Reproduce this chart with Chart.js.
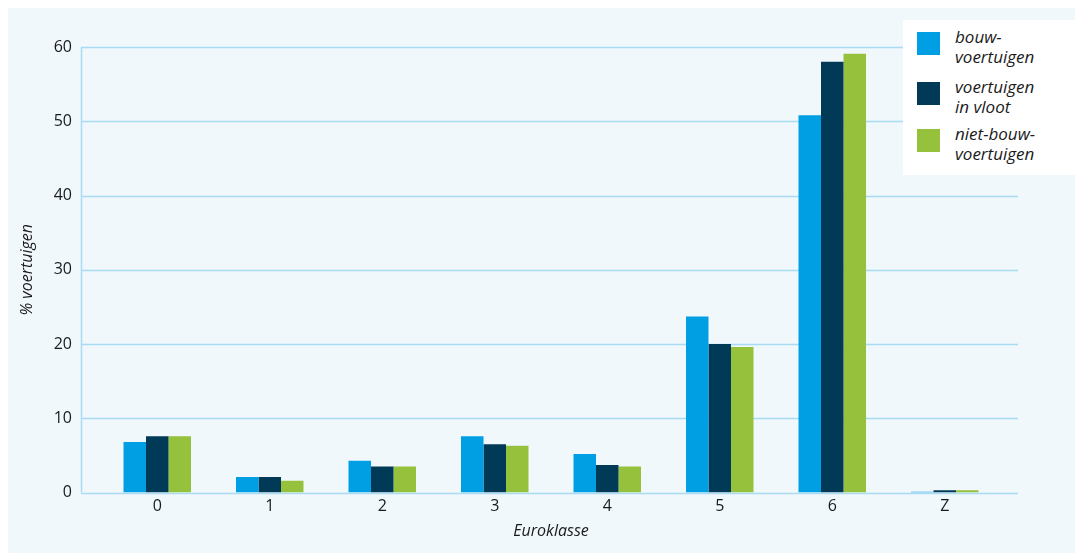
<!DOCTYPE html>
<html>
<head>
<meta charset="utf-8">
<script src="https://cdn.jsdelivr.net/npm/chart.js@4.4.1/dist/chart.umd.min.js"></script>
<style>
  html, body { margin: 0; padding: 0; background: #ffffff; }
  #wrap { position: relative; width: 1075px; height: 553px; overflow: hidden; }
  #panel { position: absolute; left: 8px; top: 8px; right: 0; bottom: 0; background: #f0f8fc; }
  #wrap canvas { position: absolute; left: 0; top: 0; }
  #legend {
    position: absolute; left: 903px; top: 20px; width: 172px; height: 155px;
    background: #ffffff; font-family: "Open Sans", "Noto Sans", sans-serif;
    font-style: italic; font-size: 17px; line-height: 20px; color: #1a1a1a;
  }
  #legend .item { position: absolute; left: 14px; }
  #legend .sw { position: absolute; left: 0; top: 1px; width: 23px; height: 23px; }
  #legend .txt { position: absolute; left: 38px; top: -4px; white-space: nowrap; }
</style>
</head>
<body>
<div id="wrap">
  <div id="panel"></div>
  <canvas id="euroChart" width="1075" height="553"></canvas>
  <div id="legend"></div>
</div>
<script>
// Euroklasse categories and share of vehicles (%) per group
const categories = ['0', '1', '2', '3', '4', '5', '6', 'Z'];
const bouwVoertuigen = [6.8, 2.1, 4.3, 7.6, 5.2, 23.7, 50.8, 0.1];
const voertuigenInVloot = [7.6, 2.1, 3.5, 6.5, 3.7, 20.0, 58.0, 0.3];
const nietBouwVoertuigen = [7.6, 1.6, 3.5, 6.3, 3.5, 19.6, 59.1, 0.3];
const yTicks = [0, 10, 20, 30, 40, 50, 60];

const seriesNames = [['bouw-', 'voertuigen'], ['voertuigen', 'in vloot'], ['niet-bouw-', 'voertuigen']];
const seriesColors = ['#009fe3', '#003a57', '#95c13d'];

const gridColor = '#a9dcf2';
const textColor = '#1a1a1a';
const fontFamily = '"Open Sans", "Noto Sans", sans-serif';

// horizontal grid lines and the y axis line run a bit wider than the bars
const gridPlugin = {
    id: 'wideGrid',
    beforeDatasetsDraw(chart) {
        const { ctx, chartArea, scales } = chart;
        const left = chartArea.left - 20;
        const right = chartArea.right + 17;
        ctx.save();
        ctx.strokeStyle = gridColor;
        ctx.lineWidth = 1.5;
        yTicks.forEach(function (t) {
            const y = Math.round(scales.y.getPixelForValue(t)) + 0.5;
            ctx.beginPath();
            ctx.moveTo(left, y);
            ctx.lineTo(right, y);
            ctx.stroke();
        });
        ctx.beginPath();
        ctx.moveTo(left + 0.5, scales.y.getPixelForValue(60));
        ctx.lineTo(left + 0.5, scales.y.getPixelForValue(0));
        ctx.stroke();
        ctx.restore();
    }
};

const ctx = document.getElementById('euroChart').getContext('2d');
const euroChart = new Chart(ctx, {
    type: 'bar',
    data: {
        labels: categories,
        datasets: [
            { label: seriesNames[0].join(' '), data: bouwVoertuigen, backgroundColor: seriesColors[0] },
            { label: seriesNames[1].join(' '), data: voertuigenInVloot, backgroundColor: seriesColors[1] },
            { label: seriesNames[2].join(' '), data: nietBouwVoertuigen, backgroundColor: seriesColors[2] }
        ]
    },
    options: {
        responsive: false,
        animation: false,
        categoryPercentage: 0.6,
        barPercentage: 1.0,
        layout: { padding: { left: 14, right: 74, top: 47, bottom: 12 } },
        plugins: {
            legend: { display: false },
            tooltip: { enabled: false }
        },
        scales: {
            x: {
                grid: { display: false, drawTicks: false },
                border: { display: false },
                ticks: { color: textColor, font: { family: fontFamily, size: 16 }, padding: 4 },
                title: {
                    display: true, text: 'Euroklasse', color: textColor,
                    font: { family: fontFamily, size: 16, style: 'italic' }, padding: { top: 2, bottom: 0 }
                }
            },
            y: {
                min: 0,
                max: 60,
                afterFit(scale) { scale.width = 87; },
                afterBuildTicks(scale) { scale.ticks = yTicks.map(v => ({ value: v })); },
                grid: { display: false, drawTicks: false },
                border: { display: false },
                ticks: { color: textColor, font: { family: fontFamily, size: 16 }, padding: 29 },
                title: {
                    display: true, text: '% voertuigen', color: textColor,
                    font: { family: fontFamily, size: 16, style: 'italic' }, padding: { top: 4, bottom: 4 }
                }
            }
        }
    },
    plugins: [gridPlugin]
});

// legend with two-line labels
const legendEl = document.getElementById('legend');
const itemTops = [11, 61, 108];
seriesNames.forEach(function (lines, i) {
    const item = document.createElement('div');
    item.className = 'item';
    item.style.top = itemTops[i] + 'px';
    const sw = document.createElement('div');
    sw.className = 'sw';
    sw.style.background = seriesColors[i];
    const txt = document.createElement('div');
    txt.className = 'txt';
    txt.innerHTML = lines.join('<br>');
    item.appendChild(sw);
    item.appendChild(txt);
    legendEl.appendChild(item);
});
</script>
</body>
</html>
